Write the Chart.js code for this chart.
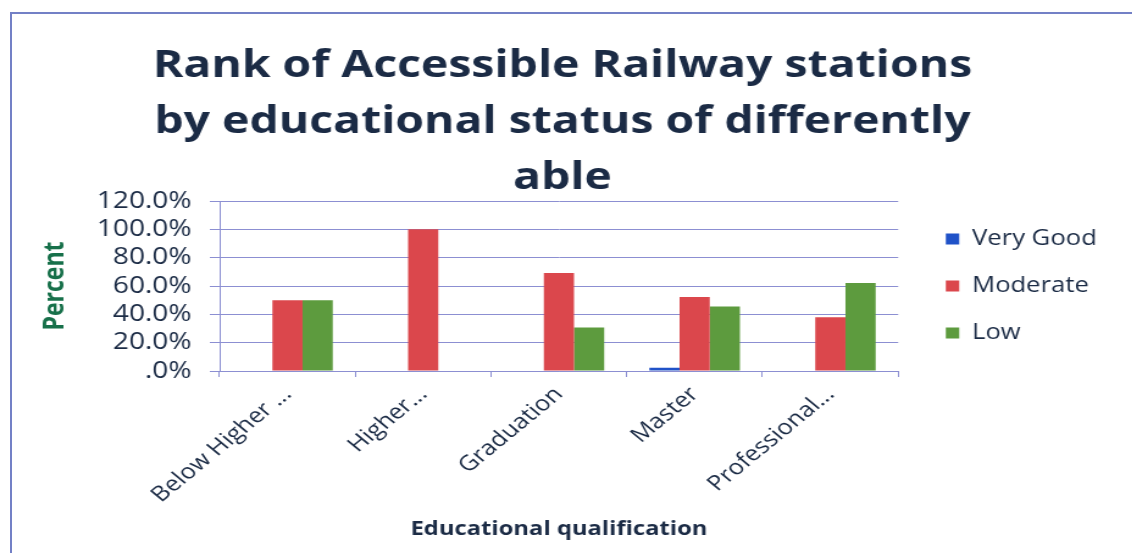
<!DOCTYPE html>
<html>
<head>
<meta charset="utf-8">
<script src="https://cdn.jsdelivr.net/npm/chart.js@4.4.1/dist/chart.umd.min.js"></script>
<style>
    html, body { margin: 0; padding: 0; background: #ffffff; overflow: hidden; }
    #wrap { position: relative; width: 1132px; height: 553px; overflow: hidden; }
    #frame {
        position: absolute; left: 10px; top: 12px; width: 1200px; height: 600px;
        border-left: 2px solid #7380c6; border-top: 2px solid #7380c6;
    }
    /* the chart is laid out narrow and widened, so all text gets the wide look */
    #chart { position: absolute; left: 0; top: 0; transform: scaleX(1.22); transform-origin: 0 0; }
</style>
</head>
<body>
<div id="wrap">
    <div id="frame"></div>
    <canvas id="chart" width="928" height="553"></canvas>
</div>
<script>
const categories = ['Below Higher ...', 'Higher...', 'Graduation', 'Master', 'Professional...'];
const veryGood = [0, 0, 0, 2.3, 0];
const moderate = [50, 100, 69.2, 52.3, 37.9];
const low = [50, 0, 30.8, 45.5, 62.1];
const yTicks = [0, 20, 40, 60, 80, 100, 120];

const textColor = '#1b2b45';
const gridColor = '#8c8fd2';
const fontFamily = '"Open Sans", Lato, sans-serif';

// nudge the legend a little away from the plot area
const legendShift = {
    id: 'legendShift',
    afterLayout(chart) {
        chart.legend.left += 13;
        chart.legend.right += 13;
    }
};

const ctx = document.getElementById('chart').getContext('2d');

const chart = new Chart(ctx, {
    type: 'bar',
    data: {
        labels: categories,
        datasets: [
            { label: 'Very Good', data: veryGood, backgroundColor: '#2052c8' },
            { label: 'Moderate', data: moderate, backgroundColor: '#db474c' },
            { label: 'Low', data: low, backgroundColor: '#5d9b3e' }
        ]
    },
    plugins: [legendShift],
    options: {
        responsive: false,
        animation: false,
        layout: { padding: { left: 26, right: 32, top: 0, bottom: 0 } },
        datasets: {
            bar: { categoryPercentage: 0.667, barPercentage: 1.0 }
        },
        plugins: {
            title: {
                display: true,
                text: ['Rank of Accessible Railway stations', 'by educational status of differently', 'able'],
                color: textColor,
                font: { family: fontFamily, size: 38, weight: 'bold', lineHeight: 1.474 },
                padding: { top: 38, bottom: -5 }
            },
            legend: {
                position: 'right',
                fullSize: false,
                labels: {
                    color: textColor,
                    font: { family: fontFamily, size: 21 },
                    boxWidth: 11,
                    boxHeight: 11,
                    padding: 26
                }
            },
            tooltip: { enabled: false }
        },
        scales: {
            x: {
                afterFit: function(axis) {
                    axis.height = 553 - 371;
                },
                grid: {
                    offset: true,
                    drawOnChartArea: false,
                    drawTicks: true,
                    tickLength: 6,
                    color: gridColor
                },
                border: { color: gridColor },
                ticks: {
                    color: textColor,
                    font: { family: fontFamily, size: 21 },
                    padding: 5,
                    maxRotation: 45,
                    minRotation: 45,
                    autoSkip: false
                },
                title: {
                    display: true,
                    text: 'Educational qualification',
                    color: textColor,
                    font: { family: fontFamily, size: 19.5, weight: 'bold' },
                    padding: { top: 0, bottom: 12 }
                }
            },
            y: {
                min: 0,
                max: 120,
                afterFit: function(axis) {
                    axis.width = 154;
                },
                afterBuildTicks: function(axis) {
                    axis.ticks = yTicks.map(v => ({ value: v }));
                },
                grid: { color: gridColor, tickLength: 8 },
                border: { color: gridColor },
                ticks: {
                    color: textColor,
                    font: { family: fontFamily, size: 23 },
                    padding: 15,
                    autoSkip: false,
                    callback: function(v) {
                        return v === 0 ? '.0%' : v.toFixed(1) + '%';
                    }
                },
                title: {
                    display: true,
                    text: 'Percent',
                    color: '#17704a',
                    font: { family: fontFamily, size: 23, weight: 'bold' },
                    padding: { top: 6, bottom: 0 }
                }
            }
        }
    }
});
</script>
</body>
</html>
